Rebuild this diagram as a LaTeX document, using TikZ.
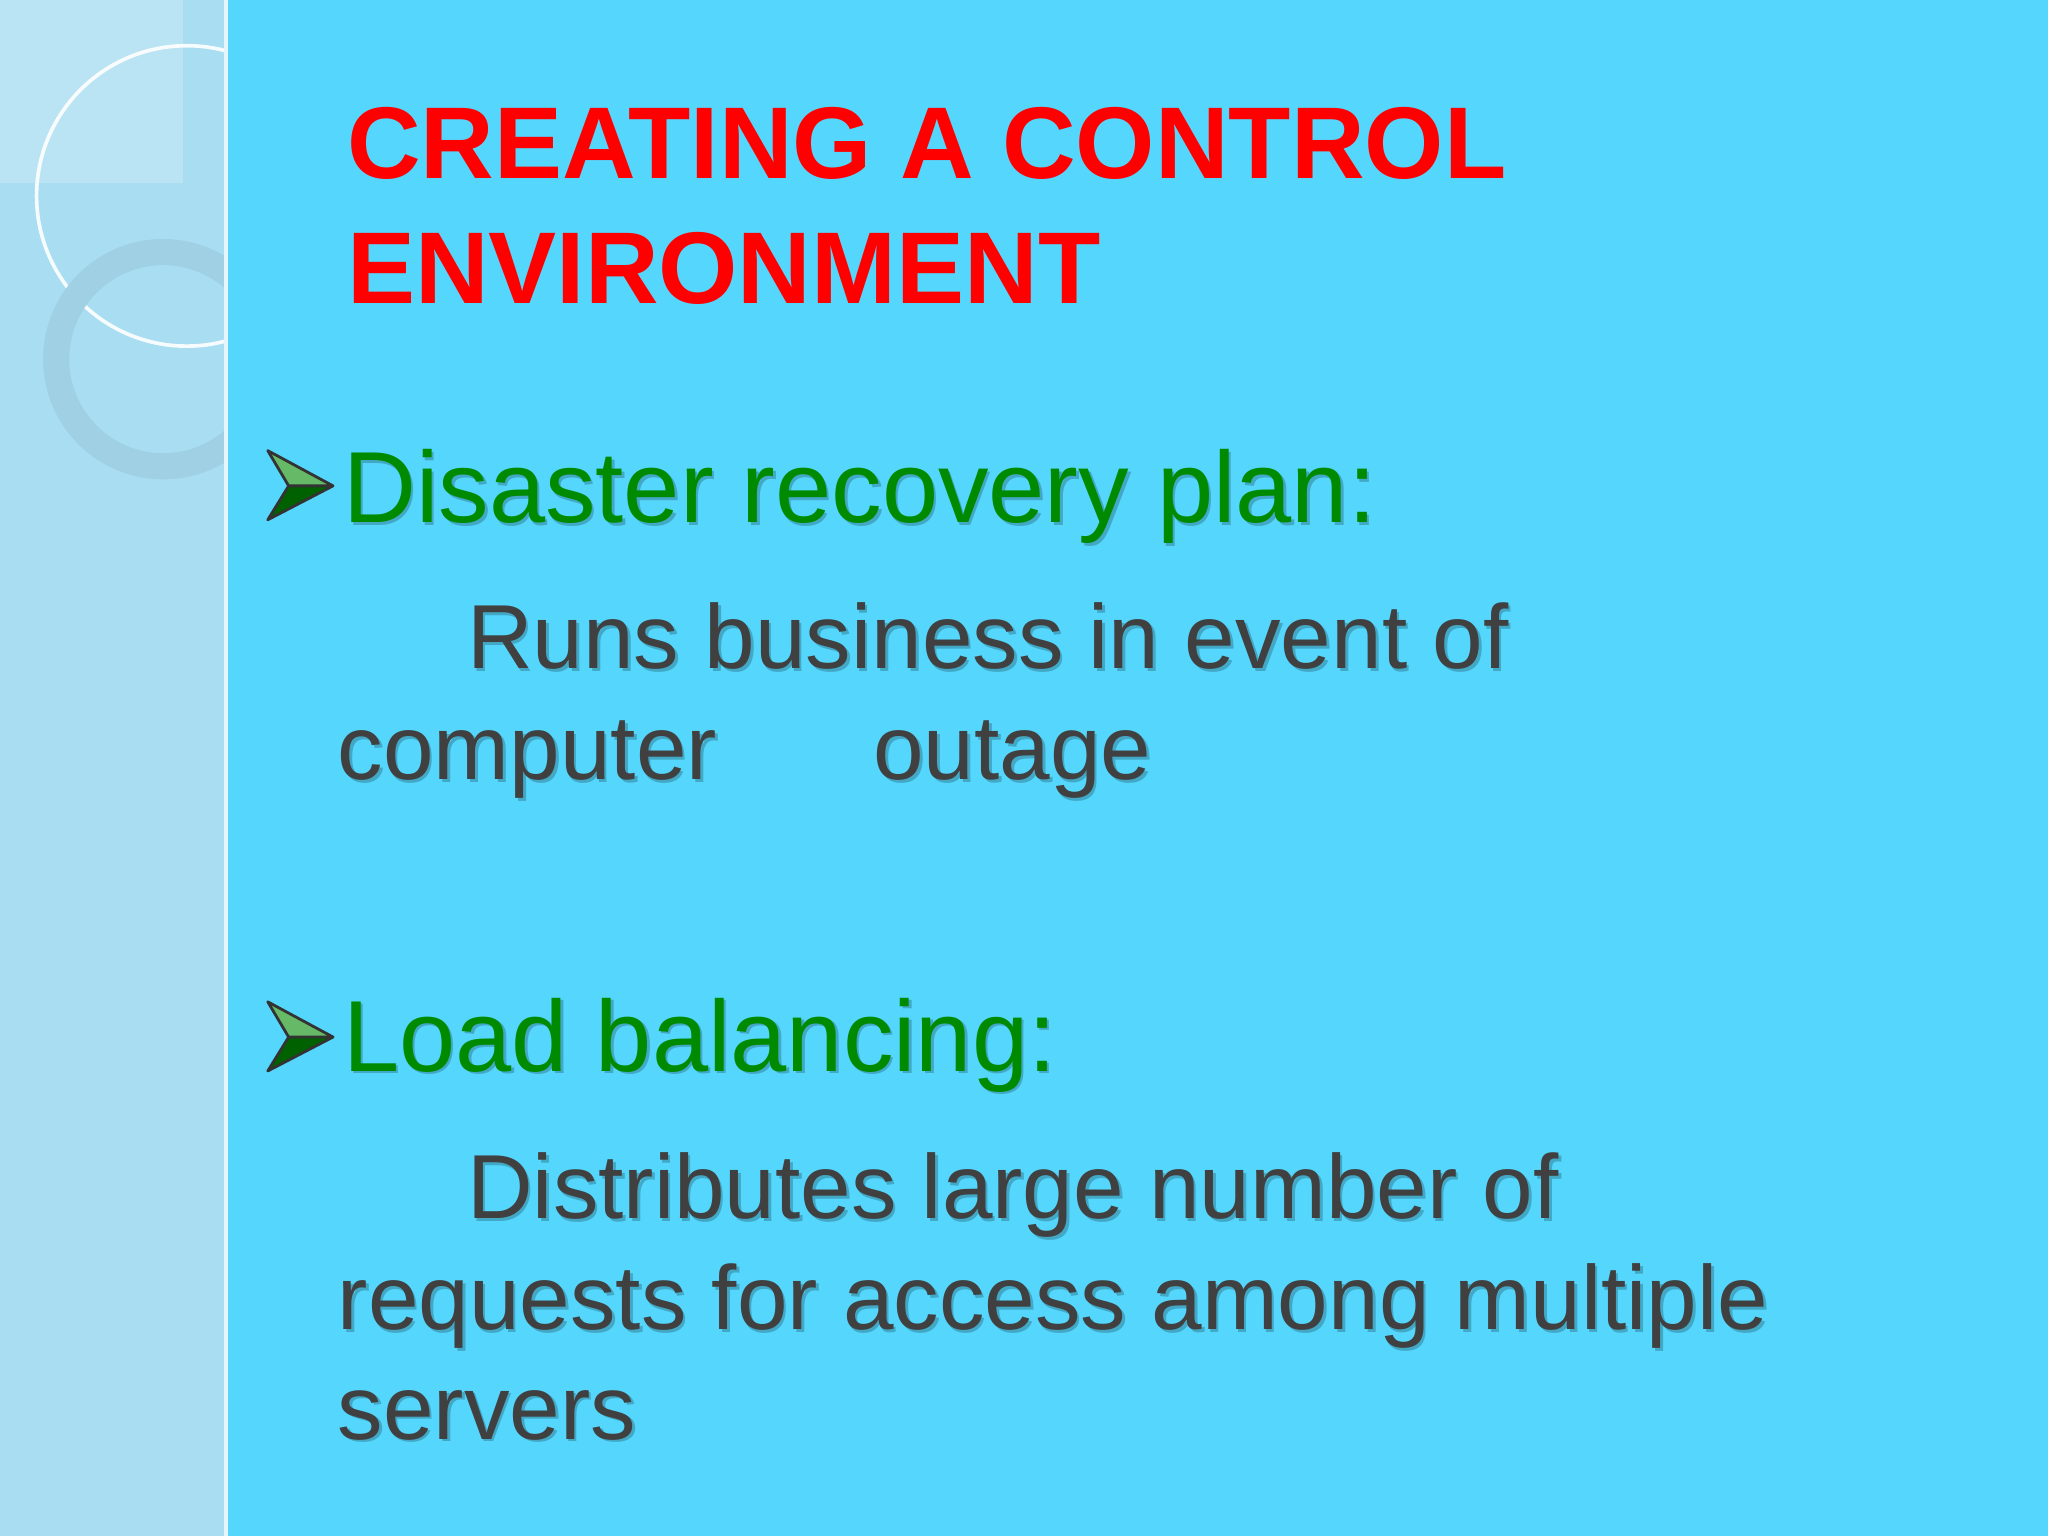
\documentclass[tikz,border=0pt]{standalone}
\usepackage{fontspec}
\setmainfont{Liberation Sans}
\definecolor{bgmain}{HTML}{55D7FD}
\definecolor{panel}{HTML}{A9DDF2}
\definecolor{titlered}{HTML}{FF0000}
\definecolor{headgreen}{HTML}{008A00}
\definecolor{bodygray}{HTML}{404040}
\tikzset{
 title/.style={anchor=base west,inner sep=0,font=\fontsize{22.2}{28}\selectfont\bfseries,text=titlered},
 head/.style={anchor=base west,inner sep=0,font=\fontsize{22}{26}\selectfont,text=headgreen},
 body/.style={anchor=base west,inner sep=0,font=\fontsize{19.8}{24}\selectfont,text=bodygray},
 shad/.style={text=black!22!bgmain},
 pics/bularrow/.style={code={
   \fill[headgreen!70!black] (0,0) -- (50,27) -- (0,53) -- (16,27) -- cycle;
   \fill[headgreen!60!white] (0,0) -- (50,27) -- (16,27) -- cycle;
   \draw[black!80,line width=0.6pt,line join=round] (0,0) -- (50,27) -- (0,53) -- (16,27) -- cycle (16,27) -- (50,27);
 }}
}
\begin{document}
\begin{tikzpicture}[x=0.01cm,y=-0.01cm]
\useasboundingbox (0,0) rectangle (1568,1176);
\fill[bgmain] (0,0) rectangle (1568,1176);
\fill[panel] (0,0) rectangle (173,1176);
\begin{scope}
\clip (0,0) rectangle (173,1176);
\fill[white,opacity=0.2] (0,0) rectangle (140,140);
\draw[white,line width=0.8pt,opacity=0.9] (143,150) circle (115);
\draw[black!6!panel,line width=0.2cm] (125,275) circle (82);
\end{scope}
\draw[white!70!panel,line width=1pt] (173,0) -- (173,1176);
\node[title] (t1) at (265,137) {CREATING A CONTROL};
\node[title] (t2) at (265,232) {ENVIRONMENT};
\pic at (205,345) {bularrow};
\node[head,shad] at (264,402) {Disaster recovery plan:};
\node[head] (h1) at (262,400) {Disaster recovery plan:};
\foreach \s/\dx in {shad/2,{}/0}{
 \node[body,\s] at (357+\dx,512+\dx) {Runs business in event of};
 \node[body,\s] at (258+\dx,597+\dx) {computer};
 \node[body,\s] at (668+\dx,597+\dx) {outage};
 \node[body,\s] at (357+\dx,933+\dx) {Distributes large number of};
 \node[body,\s] at (258+\dx,1018+\dx) {requests for access among multiple};
 \node[body,\s] at (258+\dx,1102+\dx) {servers};
}
\pic at (205,767) {bularrow};
\node[head,shad] at (264,822) {Load balancing:};
\node[head] (h2) at (262,820) {Load balancing:};
\end{tikzpicture}
\end{document}
